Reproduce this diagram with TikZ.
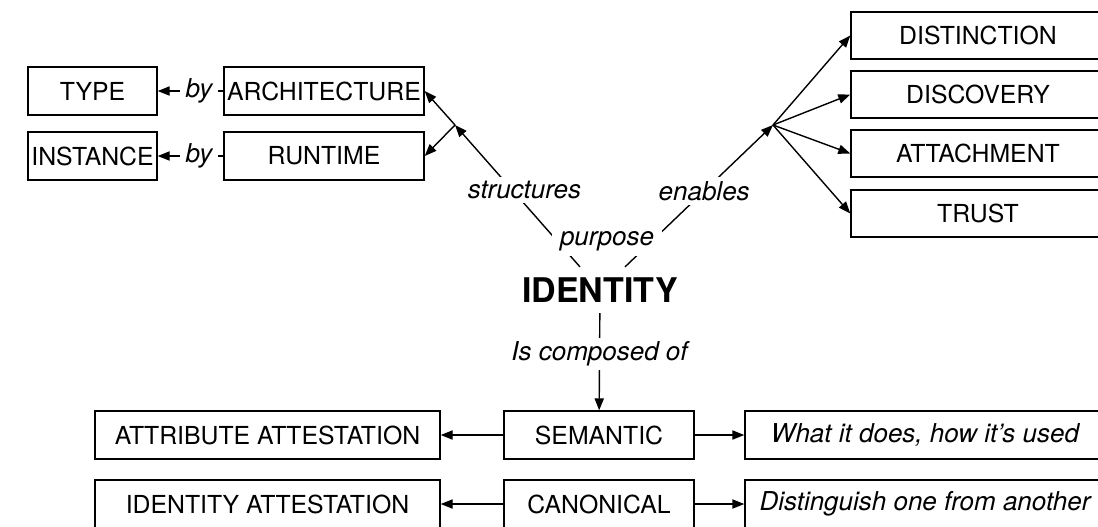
\documentclass[tikz,border=0pt]{standalone}
\usepackage{fontspec}
\setmainfont{TeX Gyre Heros}
\usetikzlibrary{arrows.meta}

\begin{document}
\begin{tikzpicture}[x=0.5pt, y=-0.5pt, line width=0.7pt,
		>={Triangle[length=6pt,width=4.6pt]},
		font=\fontsize{12.4}{14}\selectfont,
		box/.style={draw, minimum height=24pt, inner sep=0pt},
		lbl/.style={fill=white, inner xsep=3pt, inner ysep=2pt, font=\fontsize{13}{15}\selectfont\itshape}]
	\useasboundingbox (0,0) rectangle (1098,526);
	\clip (0,0) rectangle (1098,526);
	\node (TYPE) at ( 92.5,  91)	[box, minimum width=64.5pt]	{TYPE};
	\node (INST) at ( 92.5, 156)	[box, minimum width=64.5pt]	{INSTANCE};
	\node (ARCH) at (324,    91)	[box, minimum width=100pt]	{ARCHITECTURE};
	\node (RUN)  at (324,   156)	[box, minimum width=100pt]	{RUNTIME};
	\node (DIST) at (978,  35.5)	[box, minimum width=127pt, minimum height=23.5pt]	{DISTINCTION};
	\node (DISC) at (978,  94.5)	[box, minimum width=127pt, minimum height=23.5pt]	{DISCOVERY};
	\node (ATT)  at (978, 153.5)	[box, minimum width=127pt, minimum height=23.5pt]	{ATTACHMENT};
	\node (TRU)  at (978, 213.5)	[box, minimum width=127pt, minimum height=23.5pt]	{TRUST};
	\node (ID)   at (600,   290)	[inner sep=5pt, font=\fontsize{17}{20}\selectfont\bfseries]	{IDENTITY};
	\node (SEM)  at (599,   435)	[box, minimum width=95pt]	{SEMANTIC};
	\node (CAN)  at (599,   504)	[box, minimum width=95pt]	{CANONICAL};
	\node (AATT) at (267.5, 435)	[box, minimum width=172.5pt]	{ATTRIBUTE ATTESTATION};
	\node (IATT) at (267.5, 504)	[box, minimum width=172.5pt]	{IDENTITY ATTESTATION};
	\node (USE)  at (925,   435)	[box, minimum width=180pt]	{\fontsize{13}{15}\selectfont\itshape What it does, how it’s used};
	\node (DIFF) at (925,   504)	[box, minimum width=180pt]	{\fontsize{13}{15}\selectfont\itshape Distinguish one from another};
	\coordinate (L) at (455, 125);
	\coordinate (R) at (773, 125);
	% purpose branches
	\draw[->] ([xshift=-10pt]ID.north) -- node[lbl, pos=0.54, xshift=6pt] {structures} (L);
	\draw[->] ([xshift=12.5pt]ID.north) -- node[lbl, pos=0.535] {enables} (R);
	\node (PUR) at (607, 241)	[lbl, inner xsep=4pt, inner ysep=2.5pt]	{purpose};
	\draw[->] (L) -- (ARCH.east);
	\draw[->] (L) -- (RUN.east);
	\draw[->] (ARCH) -- node[lbl, pos=0.37] {by} (TYPE);
	\draw[->] (RUN) -- node[lbl, pos=0.37] {by} (INST);
	\draw[->] (R) -- (DIST.west);
	\draw[->] (R) -- (DISC.west);
	\draw[->] (R) -- (ATT.west);
	\draw[->] (R) -- (TRU.west);
	% composition
	\draw[->] (ID) -- node[lbl, pos=0.42] {Is composed of} (SEM);
	\draw[->] (SEM) -- (AATT);
	\draw[->] (CAN) -- (IATT);
	\draw[->] (SEM) -- (USE);
	\draw[->] (CAN) -- (DIFF);
\end{tikzpicture}
\end{document}
